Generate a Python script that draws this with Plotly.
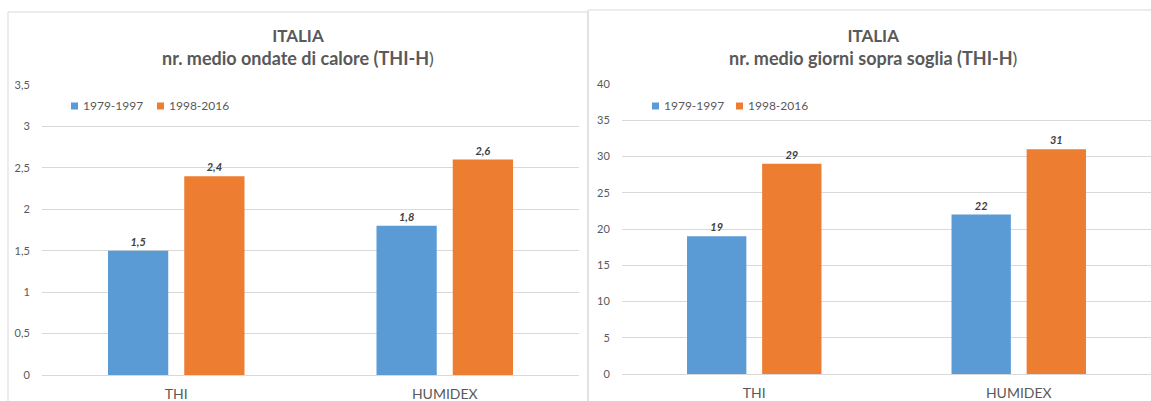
import plotly.graph_objects as go

W, H = 1151, 401

categories = ["THI", "HUMIDEX"]
periods = ["1979-1997", "1998-2016"]
colors = ["#5B9BD5", "#ED7D31"]

# nr. medio ondate di calore (THI-H)
ondate_1979_1997 = [1.5, 1.8]
ondate_1998_2016 = [2.4, 2.6]

# nr. medio giorni sopra soglia (THI-H)
giorni_1979_1997 = [19, 22]
giorni_1998_2016 = [29, 31]

left_ticks = [0, 0.5, 1, 1.5, 2, 2.5, 3, 3.5]
right_ticks = [0, 5, 10, 15, 20, 25, 30, 35, 40]

TEXT = "#595959"
GRID = "#D9D9D9"
FONT = "Lato"


def fx(px):
    return px / W


def fy(py):
    return 1 - py / H


fig = go.Figure()

for name, vals, col in zip(periods, [ondate_1979_1997, ondate_1998_2016], colors):
    fig.add_trace(go.Bar(
        x=categories, y=vals, name=name, marker=dict(color=col, line=dict(width=0)),
        texttemplate="%{y:.1f}", textposition="outside", cliponaxis=False,
        textfont=dict(family=FONT, size=11, color="#404040", style="italic", weight="bold"),
        xaxis="x", yaxis="y", showlegend=False,
    ))

for name, vals, col in zip(periods, [giorni_1979_1997, giorni_1998_2016], colors):
    fig.add_trace(go.Bar(
        x=categories, y=vals, name=name, marker=dict(color=col, line=dict(width=0)),
        texttemplate="%{y:.0f}", textposition="outside", cliponaxis=False,
        textfont=dict(family=FONT, size=11, color="#404040", style="italic", weight="bold"),
        xaxis="x2", yaxis="y2", showlegend=False,
    ))

yaxis_common = dict(
    showgrid=True, gridcolor=GRID, gridwidth=1,
    zeroline=True, zerolinecolor=GRID, zerolinewidth=1,
    showline=False, ticks="outside", ticklen=9, tickcolor="rgba(0,0,0,0)",
    tickfont=dict(family=FONT, size=11, color=TEXT), fixedrange=True,
    automargin=False,
)
xaxis_common = dict(
    showgrid=False, showline=False, zeroline=False,
    ticks="outside", ticklen=6, tickcolor="rgba(0,0,0,0)",
    tickfont=dict(family=FONT, size=14, color=TEXT), fixedrange=True,
    automargin=False,
)

fig.update_layout(
    width=W, height=H,
    margin=dict(l=0, r=0, t=0, b=0, autoexpand=False),
    paper_bgcolor="white", plot_bgcolor="white",
    separators=", ",
    font=dict(family=FONT, color=TEXT),
    barmode="group", bargap=0.432, bargroupgap=0.21,
    xaxis=dict(domain=[fx(42), fx(579)], anchor="y", **xaxis_common),
    yaxis=dict(domain=[fy(375), fy(85)], range=[0, 3.5], tickvals=left_ticks,
               anchor="x", **yaxis_common),
    xaxis2=dict(domain=[fx(622), 1.0], anchor="y2", **xaxis_common),
    yaxis2=dict(domain=[fy(374), fy(84)], range=[0, 40], tickvals=right_ticks,
                anchor="x2", **yaxis_common),
    showlegend=False,
)

# chart area frames
fig.add_shape(type="rect", xref="paper", yref="paper",
              x0=fx(8), x1=fx(588), y0=fy(420), y1=fy(12),
              line=dict(color=GRID, width=1), fillcolor="rgba(0,0,0,0)", layer="below")
fig.add_shape(type="rect", xref="paper", yref="paper",
              x0=fx(588), x1=fx(1165), y0=fy(420), y1=fy(10),
              line=dict(color=GRID, width=1), fillcolor="rgba(0,0,0,0)", layer="below")

# series keys for each chart
legend_rows = [(71, 157), (652, 736)]
for starts in legend_rows:
    for sx, name, col in zip(starts, periods, colors):
        fig.add_shape(type="rect", xref="paper", yref="paper",
                      x0=fx(sx), x1=fx(sx + 7), y0=fy(109.5), y1=fy(102.5),
                      line=dict(width=0), fillcolor=col)
        fig.add_annotation(text=name, xref="paper", yref="paper",
                           x=fx(sx + 10), y=fy(106), xanchor="left", yanchor="middle",
                           showarrow=False, font=dict(family=FONT, size=12, color=TEXT))

titles = [
    ("<span style='font-size:17px'><b>ITALIA</b></span><br>"
     "<b>nr. medio ondate di calore (THI-H</b>)", 298),
    ("<span style='font-size:17px'><b>ITALIA</b></span><br>"
     "<b>nr. medio giorni sopra soglia (THI-H</b>)", 873),
]
for txt, cx in titles:
    fig.add_annotation(
        text=txt, xref="paper", yref="paper", x=fx(cx), y=fy(23),
        xanchor="center", yanchor="top", showarrow=False, align="center",
        font=dict(family=FONT, size=18, color=TEXT),
    )

fig.write_html("out.html")
